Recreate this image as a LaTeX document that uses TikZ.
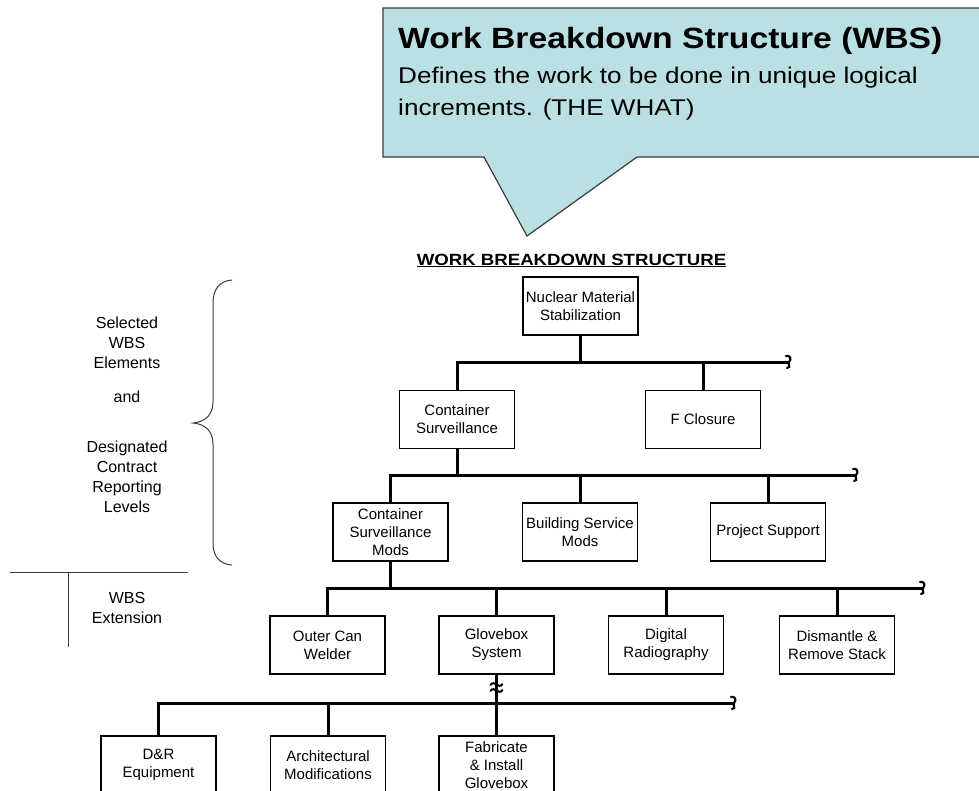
\documentclass[tikz,border=0pt]{standalone}
\usepackage{fontspec}
\setmainfont{Liberation Sans}
\newfontfamily\widefont[FakeStretch=1.15]{Liberation Sans}
\usepackage{xcolor}
\definecolor{calloutblue}{RGB}{187,224,227}
\definecolor{edgegray}{RGB}{60,60,60}

\tikzset{
  wbsbox/.style={draw, line width=1.3pt, minimum width=115pt, minimum height=58pt,
    inner sep=1pt, align=center, font=\fontsize{15}{18}\selectfont},
  tree/.style={line width=3pt},
  sidetext/.style={align=center, font=\fontsize{16}{20}\selectfont},
  endbreak/.pic={\draw[line width=2.2pt,line cap=round]
    (-2,-6) .. controls (2,-7) and (4,-3) .. (1,0) .. controls (-1,2) and (4,5) .. (-1,6);},
  vbreak/.pic={\draw[line width=2pt,line cap=round]
    (-6,-3) .. controls (-2,-9) and (2,2) .. (6,-4)
    (-6,3) .. controls (-2,-3) and (2,8) .. (6,2);},
}

\begin{document}
\begin{tikzpicture}[x=1pt,y=-1pt]
  \useasboundingbox (0,0) rectangle (979,790);
  \clip (0,0) rectangle (979,790);
  % callout
  \draw[fill=calloutblue,draw=edgegray,line width=1.2pt]
    (383,8) -- (990,8) -- (990,157) -- (637,157) -- (527,236) -- (484,157) -- (383,157) -- cycle;
  \node[anchor=base west,inner sep=0pt,font=\widefont\bfseries\fontsize{29.3}{34}\selectfont]
    (ttl) at (398,48) {Work Breakdown Structure (WBS)};
  \node[anchor=north west,inner sep=0pt,align=left,font=\widefont\fontsize{22.7}{32}\selectfont]
    (def) at (398,67) {Defines the work to be done in unique logical\\increments. (THE WHAT)};

  \node[anchor=base,font=\widefont\bfseries\fontsize{16.2}{19}\selectfont]
    (hdr) at (571.5,265) {\underline{WORK BREAKDOWN STRUCTURE}};

  % boxes
  \node[wbsbox] (nms) at (580.5,306) {Nuclear Material\\Stabilization};
  \node[wbsbox] (cs) at (457,419.5) {Container\\Surveillance};
  \node[wbsbox] (fc) at (703,419.5) {F Closure};
  \node[wbsbox] (csm) at (390.5,532) {Container\\Surveillance\\Mods};
  \node[wbsbox] (bsm) at (580,532) {Building Service\\Mods};
  \node[wbsbox] (ps) at (768,532) {Project Support};
  \node[wbsbox] (ocw) at (327.5,645) {Outer Can\\Welder};
  \node[wbsbox] (gs) at (496.5,645) {Glovebox\\System};
  \node[wbsbox] (dr) at (666,645) {Digital\\Radiography};
  \node[wbsbox] (drs) at (837,645) {Dismantle \&\\Remove Stack};
  \node[wbsbox] (dre) at (158.5,765) {D\&R\\Equipment};
  \node[wbsbox] (am) at (328,765) {Architectural\\Modifications};
  \node[wbsbox] (fig) at (496.5,765) {Fabricate\\\& Install\\Glovebox};

  % tree lines
  \coordinate (e1) at (788,362);
  \draw[tree] (nms.south) -- (nms.south |- e1);
  \draw[tree] (cs.north) |- (e1);
  \draw[tree] (fc.north) -- (fc.north |- e1);
  \pic at (e1) {endbreak};

  \coordinate (e2) at (855,475);
  \draw[tree] (cs.south) -- (cs.south |- e2);
  \draw[tree] (csm.north) |- (e2);
  \draw[tree] (bsm.north) -- (bsm.north |- e2);
  \draw[tree] (ps.north) -- (ps.north |- e2);
  \pic at (e2) {endbreak};

  \coordinate (e3) at (922,588);
  \draw[tree] (csm.south) -- (csm.south |- e3);
  \draw[tree] (ocw.north) |- (e3);
  \draw[tree] (gs.north) -- (gs.north |- e3);
  \draw[tree] (dr.north) -- (dr.north |- e3);
  \draw[tree] (drs.north) -- (drs.north |- e3);
  \pic at (e3) {endbreak};

  \coordinate (e4) at (733,703);
  \draw[tree] (dre.north) |- (e4);
  \draw[tree] (am.north) -- (am.north |- e4);
  \draw[line width=2.2pt] (gs.south) -- (fig.north);
  \pic at (e4) {endbreak};
  \pic at (496.5,688) {vbreak};

  % left side
  \node[sidetext] (sel) at (127,343) {Selected\\WBS\\Elements};
  \node[sidetext] (and) at (127,397) {and};
  \node[sidetext] (des) at (127,477) {Designated\\Contract\\Reporting\\Levels};
  \draw[edgegray,line width=1pt] (232,280) .. controls (219,281) and (213,290) .. (213,303)
    -- (213,402) .. controls (213,415) and (205,422) .. (193,423)
    .. controls (205,424) and (213,431) .. (213,444)
    -- (213,543) .. controls (213,556) and (219,564) .. (232,565);
  \coordinate (sepl) at (10,572);
  \coordinate (sepr) at (188,572);
  \coordinate (sepm) at (68,572);
  \draw[edgegray,line width=1pt] (sepl) -- (sepr);
  \draw[edgegray,line width=1pt] (sepm) -- ++(0,75);
  \node[sidetext] (ext) at (127,607.5) {WBS\\Extension};
\end{tikzpicture}
\end{document}
